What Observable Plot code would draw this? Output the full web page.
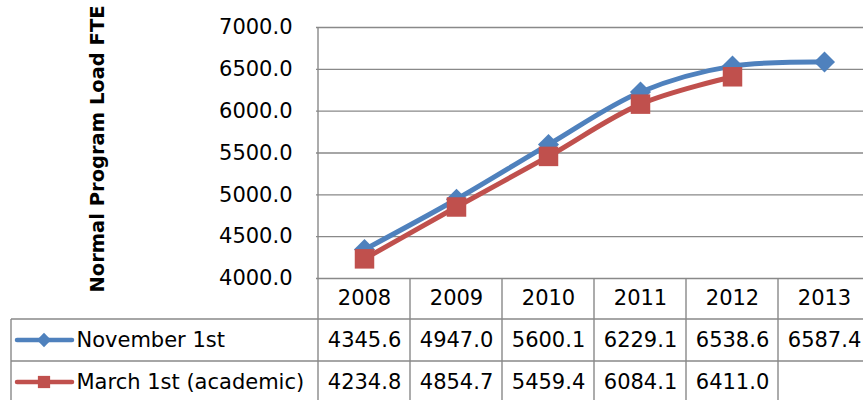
<!DOCTYPE html>
<html><head><meta charset="utf-8">
<script src="https://cdn.jsdelivr.net/npm/d3@7"></script>
<script src="https://cdn.jsdelivr.net/npm/@observablehq/plot@0.6"></script>
<style>html,body{margin:0;padding:0;background:#fff;overflow:hidden} svg{display:block}</style>
</head><body><div id="chart"></div>
<script>
// ---- data ----
const years = ["2008", "2009", "2010", "2011", "2012", "2013"];
const november = [4345.6, 4947.0, 5600.1, 6229.1, 6538.6, 6587.4];
const march = [4234.8, 4854.7, 5459.4, 6084.1, 6411.0, null];
const seriesNames = ["November 1st", "March 1st (academic)"];
const seriesColors = ["#4F81BD", "#C0504D"];
const yTicks = [4000, 4500, 5000, 5500, 6000, 6500, 7000];
const yTitle = "Normal Program Load FTE";

// ---- build ----
const novData = years.map((year, i) => ({year, value: november[i]})).filter(d => d.value != null);
const marData = years.map((year, i) => ({year, value: march[i]})).filter(d => d.value != null);
const font = "DejaVu Sans";
const gridColor = "#898989";
const fs = 21;
const txt = {fontSize: fs, fill: "#000", lineAnchor: "middle"};

const plot = Plot.plot({
  width: 863, height: 400,
  marginLeft: 316, marginRight: 0, marginTop: 27, marginBottom: 122,
  style: {fontFamily: font, background: "#fff", color: "#000", overflow: "hidden"},
  x: {type: "band", domain: years, range: [316, 871], padding: 0, axis: null},
  y: {domain: [4000, 7000]},
  marks: [
    Plot.ruleY(yTicks, {stroke: gridColor, strokeWidth: 1.4}),
    Plot.axisY({ticks: yTicks, tickFormat: d3.format(".1f"), tickSize: 0, tickPadding: 24, fontSize: fs, label: null, fill: "#000"}),
    Plot.text([yTitle], {frameAnchor: "left", textAnchor: "middle", lineAnchor: "middle", dx: -219, dy: -4, rotate: -90, fontWeight: "bold", fontSize: 19.5, fill: "#000"}),
    // series lines & markers
    Plot.line(novData, {x: "year", y: "value", stroke: seriesColors[0], strokeWidth: 5, curve: "catmull-rom"}),
    Plot.dot(novData, {x: "year", y: "value", symbol: "diamond2", r: 9.5, fill: seriesColors[0], stroke: "none"}),
    Plot.line(marData, {x: "year", y: "value", stroke: seriesColors[1], strokeWidth: 5, curve: "catmull-rom"}),
    Plot.dot(marData, {x: "year", y: "value", symbol: "square", r: 11, fill: seriesColors[1], stroke: "none"}),
    // data table: header
    Plot.text(years, {x: d => d, frameAnchor: "bottom", dy: 20, ...txt}),
    // data table: rows
    Plot.text(novData, {x: "year", text: d => d.value.toFixed(1), frameAnchor: "bottom", dy: 62, ...txt}),
    Plot.text(marData, {x: "year", text: d => d.value.toFixed(1), frameAnchor: "bottom", dy: 104, ...txt}),
    Plot.text([seriesNames[0]], {frameAnchor: "bottom-left", dx: -240, dy: 62, textAnchor: "start", ...txt}),
    Plot.text([seriesNames[1]], {frameAnchor: "bottom-left", dx: -240, dy: 104, textAnchor: "start", ...txt})
  ]
});
document.getElementById("chart").appendChild(plot);

// ---- table grid & legend swatches (positions from Plot's scales) ----
const svgSel = d3.select(plot);
const xs = plot.scale("x");
const ys = plot.scale("y");
const yTopPx = ys.apply(7000), yBasePx = ys.apply(4000);
const row1 = yBasePx + 41, row2 = yBasePx + 83;
const g = svgSel.append("g").attr("stroke", gridColor).attr("stroke-width", 1.4).attr("fill", "none");
years.forEach((yr, i) => {
  const x = xs.apply(yr);
  g.append("line").attr("x1", x).attr("x2", x).attr("y1", i === 0 ? yTopPx : yBasePx).attr("y2", 400);
});
[row1, row2].forEach(y => g.append("line").attr("x1", 11).attr("x2", 863).attr("y1", y).attr("y2", y));
g.append("line").attr("x1", 11).attr("x2", 11).attr("y1", row1).attr("y2", 400);

const sw = svgSel.append("g");
const swRows = [yBasePx + 62, yBasePx + 104];
const swSymbols = [d3.symbolDiamond2, d3.symbolSquare];
const swSizes = [130, 150];
swRows.forEach((y, i) => {
  sw.append("line").attr("x1", 17).attr("x2", 72).attr("y1", y).attr("y2", y)
    .attr("stroke", seriesColors[i]).attr("stroke-width", 4.5).attr("stroke-linecap", "round");
  sw.append("path").attr("d", d3.symbol(swSymbols[i], swSizes[i])())
    .attr("transform", `translate(44,${y})`).attr("fill", seriesColors[i]);
});
</script>
</body></html>
